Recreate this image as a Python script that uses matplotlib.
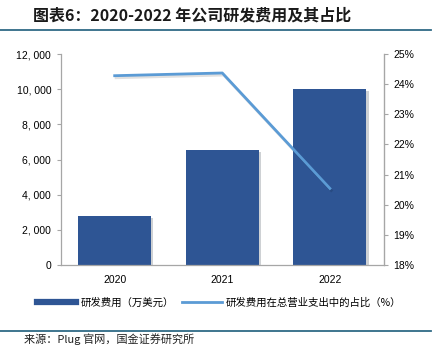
import matplotlib
matplotlib.use("Agg")
import matplotlib.pyplot as plt
import matplotlib.patheffects as pe
from matplotlib.lines import Line2D

plt.rcParams['font.family'] = ['Liberation Sans', 'Noto Sans CJK SC', 'DejaVu Sans']

# 数据
years = ['2020', '2021', '2022']
rd_cost = [2800, 6520, 10000]        # 研发费用（万美元）
rd_ratio = [24.28, 24.37, 20.54]     # 占总营业支出比例（%）

bar_color = '#2E5594'
line_color = '#5B9BD5'
axis_color = '#A6A6A6'

fig = plt.figure(figsize=(4.38, 3.46), dpi=100)

# 标题
fig.text(0.075, 0.955, '图表6：2020-2022 年公司研发费用及其占比', fontsize=11.5,
         fontweight='bold', style='italic', va='center', ha='left',
         family=['Noto Sans CJK SC', 'DejaVu Sans'], color='#1a1a1a')
fig.add_artist(Line2D([0.0, 0.985], [1 - 30 / 346] * 2, color='#2F6A86', lw=1.3))

ax = fig.add_axes([0.139, 1 - 265 / 346, 0.737, (265 - 54) / 346])
x = range(len(years))
ax.bar(x, rd_cost, width=0.68, color=bar_color, zorder=2,
       path_effects=[pe.SimplePatchShadow(offset=(1.5, -1.5), alpha=0.2), pe.Normal()])
ax.set_ylim(0, 12000)
ax.set_xlim(-0.5, 2.5)
ax.set_yticks(range(0, 12001, 2000))
ax.set_yticklabels([f'{v:,}'.replace(',', ', ') for v in range(0, 12001, 2000)])
ax.set_xticks(list(x))
ax.set_xticklabels(years)
ax.tick_params(axis='x', length=0, pad=7, labelsize=7.5)
ax.tick_params(axis='y', length=3, width=0.8, color=axis_color, labelsize=7.5, pad=4)
ax.spines['top'].set_visible(False)
for s in ['left', 'right', 'bottom']:
    ax.spines[s].set_color(axis_color)
    ax.spines[s].set_linewidth(0.9)

ax2 = ax.twinx()
ax2.plot(x, rd_ratio, color=line_color, lw=2, zorder=3,
         path_effects=[pe.SimpleLineShadow(offset=(1, -1.5), alpha=0.12), pe.Normal()])
ax2.set_ylim(18, 25)
ax2.set_yticks(range(18, 26))
ax2.set_yticklabels([f'{v}%' for v in range(18, 26)])
ax2.tick_params(axis='y', length=3, width=0.8, color=axis_color, labelsize=7.5, pad=4)
for s in ax2.spines.values():
    s.set_visible(False)
ax2.spines['right'].set_visible(True)
ax2.spines['right'].set_color(axis_color)

# 图例
handles = [Line2D([], [], color=bar_color, lw=4.5),
           Line2D([], [], color=line_color, lw=2)]
labels = ['研发费用（万美元）', '研发费用在总营业支出中的占比（%）']
fig.legend(handles, labels, loc='center', bbox_to_anchor=(0.5, 1 - 303 / 346),
           ncol=2, frameon=False, handlelength=3.8, columnspacing=0.8,
           handletextpad=0.4, prop={'family': ['Noto Sans CJK SC', 'DejaVu Sans'], 'size': 7.5})

fig.add_artist(Line2D([0.0, 0.985], [1 - 331 / 346] * 2, color='#2F6A86', lw=1.3))
fig.text(0.055, 1 - 339 / 346, '来源：Plug 官网，国金证券研究所', fontsize=8, va='center',
         family=['Noto Sans CJK SC', 'DejaVu Sans'], color='#222222')

fig.savefig('out.png', dpi=100)
